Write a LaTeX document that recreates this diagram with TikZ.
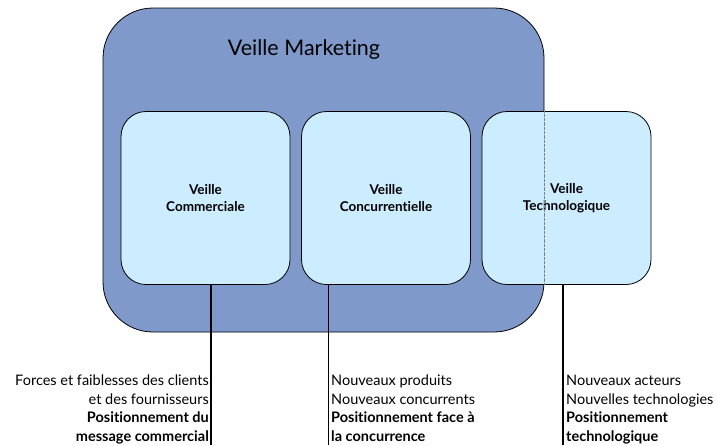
\documentclass[tikz,border=0pt]{standalone}
\usepackage{fontspec}
\setmainfont{Lato}[Ligatures=NoCommon]
\definecolor{outerblue}{HTML}{7F99CA}
\definecolor{innerblue}{HTML}{CCECFF}
\begin{document}
\begin{tikzpicture}[x=1pt,y=-1pt,
  outerbox/.style={draw=black, line width=0.8pt, fill=outerblue, rounded corners=50pt, minimum width=441pt, minimum height=324pt, inner sep=0pt},
  innerbox/.style={draw=black, line width=0.8pt, fill=innerblue, rounded corners=25pt, minimum width=169pt, minimum height=173pt, inner sep=0pt, align=center, font=\fontsize{13.5}{16.5}\selectfont\bfseries},
  leader/.style={draw=black},
  desc/.style={inner sep=0pt, font=\fontsize{14.5}{18.5}\selectfont}
]
\useasboundingbox (0,0) rectangle (717,445);
\node[outerbox] (outer) at (323.5,170) {};
\node[font=\fontsize{21.5}{24}\selectfont] (title) at (304,50) {Veille Marketing};
\node[innerbox] (b1) at (205.5,198) {Veille\\Commerciale};
\node[innerbox] (b2) at (386,198) {Veille\\Concurrentielle};
\node[innerbox] (b3) at (566.5,198) {Veille\\Technologique};
\draw[gray, densely dotted, line width=0.3pt] (b3.north -| outer.east) -- (b3.south -| outer.east);
\coordinate (e1) at (211,445);
\coordinate (e2) at (328,445);
\coordinate (e3) at (563,445);
\draw[leader, line width=2pt] (b1.south -| e1) -- (e1);
\draw[leader, line width=1pt] (b2.south -| e2) -- (e2);
\draw[leader, line width=2pt] (b3.south -| e3) -- (e3);
\node[desc, align=right, anchor=north east] (t1) at (209,375) {Forces et faiblesses des clients\\et des fournisseurs\\\textbf{Positionnement du}\\\textbf{message commercial}};
\node[desc, align=left, anchor=north west] (t2) at (331,375) {Nouveaux produits\\Nouveaux concurrents\\\textbf{Positionnement face à}\\\textbf{la concurrence}};
\node[desc, align=left, anchor=north west] (t3) at (566,375) {Nouveaux acteurs\\Nouvelles technologies\\\textbf{Positionnement}\\\textbf{technologique}};
\end{tikzpicture}
\end{document}
